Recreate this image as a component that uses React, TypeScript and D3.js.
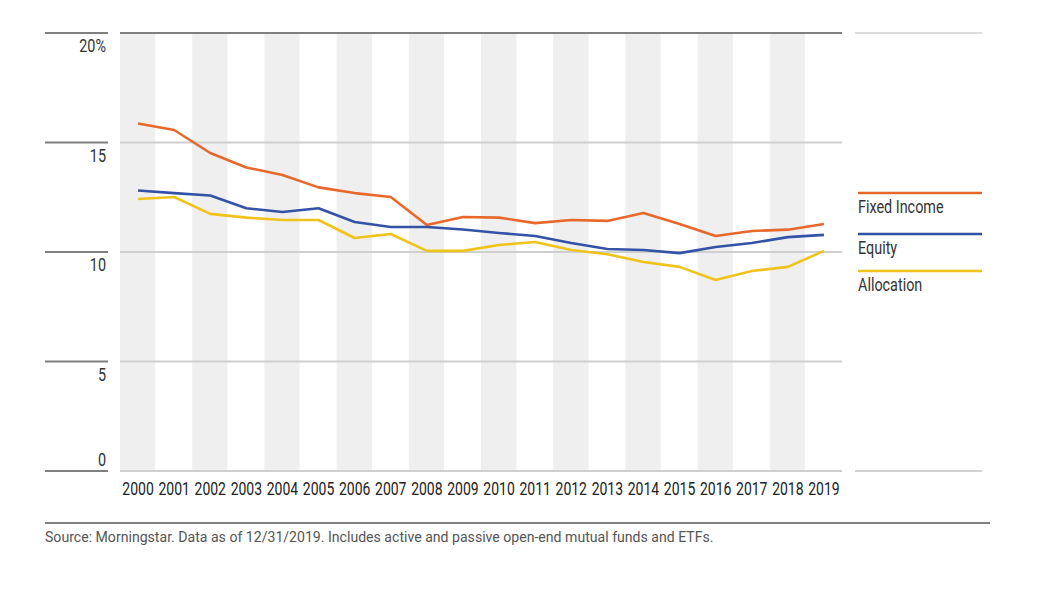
import React from "react";
import * as d3 from "d3";

const years = [
  "2000", "2001", "2002", "2003", "2004", "2005", "2006", "2007", "2008", "2009",
  "2010", "2011", "2012", "2013", "2014", "2015", "2016", "2017", "2018", "2019",
];

const fixedIncome = [
  15.87, 15.57, 14.52, 13.86, 13.52, 12.95, 12.69, 12.51, 11.23, 11.6,
  11.57, 11.32, 11.46, 11.42, 11.78, 11.28, 10.73, 10.96, 11.02, 11.28,
];
const equity = [
  12.81, 12.69, 12.58, 12.0, 11.83, 12.0, 11.37, 11.14, 11.14, 11.03,
  10.87, 10.73, 10.41, 10.14, 10.09, 9.95, 10.23, 10.41, 10.68, 10.78,
];
const allocation = [
  12.42, 12.51, 11.74, 11.57, 11.46, 11.46, 10.64, 10.82, 10.05, 10.05,
  10.32, 10.46, 10.09, 9.9, 9.54, 9.32, 8.72, 9.13, 9.32, 10.05,
];

const yTicks = [0, 5, 10, 15, 20];

const seriesList = [
  { name: "Fixed Income", values: fixedIncome, color: "#e8682c" },
  { name: "Equity", values: equity, color: "#3452a6" },
  { name: "Allocation", values: allocation, color: "#f0c31a" },
];

const font = "Roboto, 'Liberation Sans', sans-serif";

// text squeezed horizontally to mimic the narrow face of the original
function Narrow({ x, y, anchor = "start", size, fill, squeeze = 0.8, children }: {
  x: number; y: number; anchor?: string; size: number; fill: string; squeeze?: number; children: React.ReactNode;
}) {
  return (
    <text
      transform={`translate(${x},${y}) scale(${squeeze},1)`}
      textAnchor={anchor}
      fontSize={size}
      fill={fill}
    >
      {children}
    </text>
  );
}

export default function App() {
  const width = 1038;
  const height = 597;
  const plot = { left: 120, right: 842, top: 33, bottom: 471 };

  const x = d3.scaleBand<string>().domain(years).range([plot.left, plot.right]).padding(0);
  const y = d3.scaleLinear().domain([0, 20]).range([plot.bottom, plot.top]);
  const cx = (yr: string) => (x(yr) ?? 0) + x.bandwidth() / 2;

  const line = d3
    .line<number>()
    .x((_, i) => cx(years[i]))
    .y((d) => y(d));

  const legendX0 = 855;
  const legendX1 = 982;
  const legendY = [193, 234, 271];

  return (
    <svg width={width} height={height} style={{ display: "block", margin: "-8px 0 0 -8px", fontFamily: font }}>
      <rect x={0} y={0} width={width} height={height} fill="#fff" />
      {/* alternating year bands */}
      {years.map((yr, i) =>
        i % 2 === 0 ? (
          <rect key={yr} x={x(yr)} y={plot.top} width={x.bandwidth() - 0.8} height={plot.bottom - plot.top} fill="#efefef" />
        ) : null
      )}
      {/* gridlines */}
      {yTicks.map((t) => (
        <g key={t}>
          <line x1={45} x2={108} y1={y(t)} y2={y(t)} stroke="#808080" strokeWidth={2} />
          <line
            x1={plot.left}
            x2={plot.right}
            y1={y(t)}
            y2={y(t)}
            stroke={t === 20 ? "#808080" : "#cfcfcf"}
            strokeWidth={2}
          />
          <Narrow x={106} y={t === 0 ? y(t) - 5 : y(t) + 19} anchor="end" size={18} fill="#333">
            {t === 20 ? "20%" : t}
          </Narrow>
        </g>
      ))}
      {/* legend frame lines */}
      <line x1={legendX0} x2={legendX1} y1={y(20)} y2={y(20)} stroke="#dcdcdc" strokeWidth={2} />
      <line x1={legendX0} x2={legendX1} y1={y(0)} y2={y(0)} stroke="#d2d2d2" strokeWidth={2} />
      {/* series */}
      {seriesList.map((s) => (
        <path key={s.name} d={line(s.values) ?? ""} fill="none" stroke={s.color} strokeWidth={2.6} strokeLinejoin="round" />
      ))}
      {/* x labels */}
      {years.map((yr) => (
        <Narrow key={yr} x={cx(yr)} y={plot.bottom + 24} anchor="middle" size={17.5} fill="#222">
          {yr}
        </Narrow>
      ))}
      {/* legend */}
      {seriesList.map((s, i) => (
        <g key={s.name}>
          <line x1={legendX0 + 3} x2={legendX1} y1={legendY[i]} y2={legendY[i]} stroke={s.color} strokeWidth={2.6} />
          <Narrow x={legendX0 + 3} y={legendY[i] + 20} size={18} fill="#333">
            {s.name}
          </Narrow>
        </g>
      ))}
      {/* source */}
      <line x1={45} x2={990} y1={523} y2={523} stroke="#808080" strokeWidth={2} />
      <Narrow x={45} y={542} size={15} squeeze={0.94} fill="#555">
        Source: Morningstar. Data as of 12/31/2019. Includes active and passive open-end mutual funds and ETFs.
      </Narrow>
    </svg>
  );
}
